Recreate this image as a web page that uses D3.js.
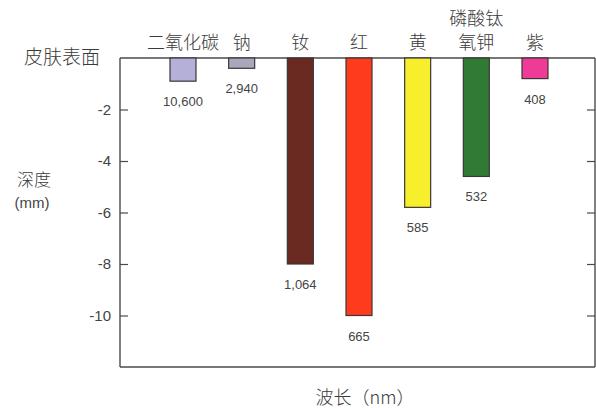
<!DOCTYPE html>
<html>
<head>
<meta charset="utf-8">
<script src="https://cdn.jsdelivr.net/npm/d3@7"></script>
<style>
  html, body { margin: 0; padding: 0; background: #fff; }
  svg { display: block; }
  .cjk { font-family: "Noto Sans CJK SC", "Noto Sans", sans-serif; fill: #3a3a3a; font-weight: 300; }
  .num { font-family: "Liberation Sans", Arial, sans-serif; fill: #444; }
</style>
</head>
<body>
<svg id="chart" width="596" height="408"></svg>
<script>
// Laser types, their wavelengths (nm) and penetration depth into skin (mm)
const lasers      = ["二氧化碳", "钠", "钕", "红", "黄", "磷酸钛氧钾", "紫"];
const labelLines  = [["二氧化碳"], ["钠"], ["钕"], ["红"], ["黄"], ["磷酸钛", "氧钾"], ["紫"]];
const wavelengths = ["10,600", "2,940", "1,064", "665", "585", "532", "408"];
const depths      = [-0.9, -0.4, -8.0, -10.0, -5.8, -4.6, -0.8];
const barColors   = ["#b4b0d8", "#a9a7bb", "#6a2a22", "#ff3b1e", "#f7ef2c", "#2f7b34", "#ee3b96"];
const yTicks      = [-2, -4, -6, -8, -10];

const svg = d3.select("#chart");
const plot = { left: 120, right: 595, top: 58, bottom: 367 };

const x = d3.scalePoint().domain(lasers).range([183, 535]);
const y = d3.scaleLinear().domain([0, -12]).range([plot.top, plot.bottom]);
const barW = 26;
const axisColor = "#4a4a4a";

// Frame: skin surface line on top, baseline at bottom, axes left/right
const frame = svg.append("g").attr("stroke", axisColor).attr("stroke-width", 1.4);
frame.append("line").attr("x1", plot.left).attr("x2", plot.right).attr("y1", y(0)).attr("y2", y(0));
frame.append("line").attr("x1", plot.left).attr("x2", plot.right).attr("y1", plot.bottom).attr("y2", plot.bottom);

// Left axis with inward ticks
const leftAxis = d3.axisRight(y).tickValues(yTicks).tickSize(8).tickFormat("");
const gl = svg.append("g").attr("transform", `translate(${plot.left},0)`).call(leftAxis);
gl.select(".domain").attr("stroke", axisColor).attr("stroke-width", 1.4).attr("d", `M0,${y(0)}V${plot.bottom}`);
gl.selectAll(".tick line").attr("stroke", axisColor).attr("stroke-width", 1.2);

// Right axis with inward ticks
const rightAxis = d3.axisLeft(y).tickValues(yTicks).tickSize(8).tickFormat("");
const gr = svg.append("g").attr("transform", `translate(${plot.right},0)`).call(rightAxis);
gr.select(".domain").attr("stroke", axisColor).attr("stroke-width", 1.4).attr("d", `M0,${y(0)}V${plot.bottom}`);
gr.selectAll(".tick line").attr("stroke", axisColor).attr("stroke-width", 1.2);

// Y tick labels
svg.append("g").selectAll("text").data(yTicks).join("text")
  .attr("class", "num")
  .attr("x", plot.left - 9)
  .attr("y", d => y(d) + 5)
  .attr("text-anchor", "end")
  .attr("font-size", 15)
  .text(d => d);

// Surface label at zero
svg.append("text").attr("class", "cjk")
  .attr("x", 62).attr("y", y(0) + 6)
  .attr("text-anchor", "middle").attr("font-size", 19)
  .text("皮肤表面");

// Y axis title
svg.append("text").attr("class", "cjk")
  .attr("x", 34).attr("y", 186)
  .attr("text-anchor", "middle").attr("font-size", 17)
  .text("深度");
svg.append("text").attr("class", "num")
  .attr("x", 32).attr("y", 208)
  .attr("text-anchor", "middle").attr("font-size", 15)
  .text("(mm)");

// Bars
svg.append("g").selectAll("rect").data(lasers).join("rect")
  .attr("x", d => x(d) - barW / 2)
  .attr("y", y(0))
  .attr("width", barW)
  .attr("height", (d, i) => y(depths[i]) - y(0))
  .attr("fill", (d, i) => barColors[i])
  .attr("stroke", "#3d3535")
  .attr("stroke-width", 1.2);

// Wavelength labels under bars
svg.append("g").selectAll("text").data(lasers).join("text")
  .attr("class", "num")
  .attr("x", d => x(d))
  .attr("y", (d, i) => y(depths[i]) + 25)
  .attr("text-anchor", "middle")
  .attr("font-size", 13)
  .text((d, i) => wavelengths[i]);

// Category labels above the surface line
const cat = svg.append("g").selectAll("text").data(lasers).join("text")
  .attr("class", "cjk")
  .attr("text-anchor", "middle")
  .attr("font-size", 18)
  .attr("x", d => x(d));
cat.each(function(d, i) {
  const lines = labelLines[i];
  const t = d3.select(this);
  lines.forEach((ln, j) => {
    t.append("tspan")
      .attr("x", x(d))
      .attr("y", 49 - (lines.length - 1 - j) * 24)
      .text(ln);
  });
});

// X axis title
svg.append("text").attr("class", "cjk")
  .attr("x", 365).attr("y", 404)
  .attr("text-anchor", "middle").attr("font-size", 18)
  .text("波长（nm）");
</script>
</body>
</html>
